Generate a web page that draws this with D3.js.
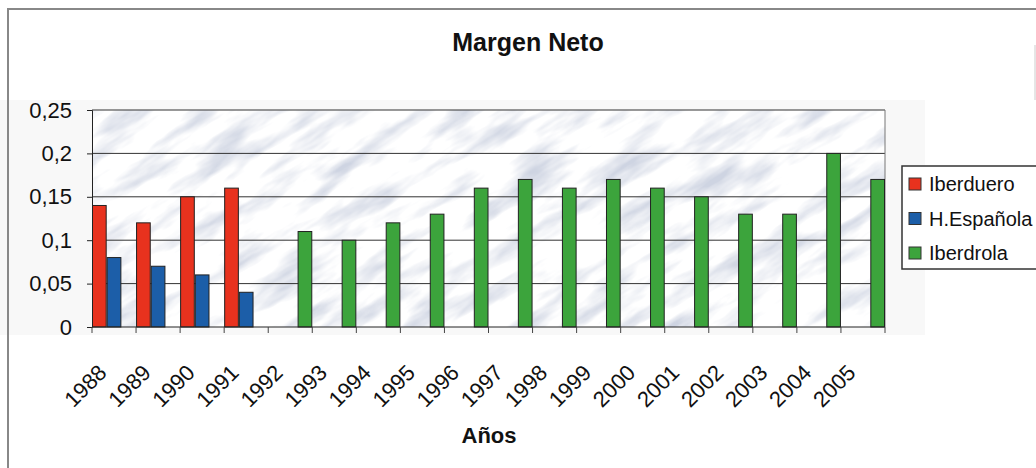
<!DOCTYPE html>
<html>
<head>
<meta charset="utf-8">
<script src="https://cdn.jsdelivr.net/npm/d3@7"></script>
<style>
  body { margin: 0; background: #fff; }
  svg text { font-family: "Liberation Sans", Arial, sans-serif; fill: #111; }
</style>
</head>
<body>
<div id="chart"></div>
<script>
// values
const years = ["1988", "1989", "1990", "1991", "1992", "1993", "1994", "1995", "1996",
               "1997", "1998", "1999", "2000", "2001", "2002", "2003", "2004", "2005"];
const seriesNames = ["Iberduero", "H.Española", "Iberdrola"];
const iberduero = [0.14, 0.12, 0.15, 0.16, null, null, null, null, null,
                   null, null, null, null, null, null, null, null, null];
const hEspanola = [0.08, 0.07, 0.06, 0.04, null, null, null, null, null,
                   null, null, null, null, null, null, null, null, null];
const iberdrola = [null, null, null, null, 0.11, 0.10, 0.12, 0.13, 0.16,
                   0.17, 0.16, 0.17, 0.16, 0.15, 0.13, 0.13, 0.20, 0.17];
const yTicks = [0, 0.05, 0.1, 0.15, 0.2, 0.25];
const seriesColors = ["#e8321e", "#1c5ea8", "#3ca43c"];

const width = 1036, height = 468;
const plot = { left: 92, right: 885, top: 110, bottom: 327 };

let svg = d3.select("#chart").append("svg").attr("width", width).attr("height", height);

// faint scan tint behind the chart and outer frame
svg.append("rect").attr("x", 0).attr("y", 100).attr("width", 925).attr("height", 235).attr("fill", "#f8f8f8");
svg.append("path").attr("d", "M8,468 L8,9 L1036,9").attr("fill", "none").attr("stroke", "#888").attr("stroke-width", 2);
svg.append("line").attr("x1", 1035).attr("x2", 1035).attr("y1", 45).attr("y2", 100).attr("stroke", "#ccc");

// marble texture of the plot area
let defs = svg.append("defs");
let filter = defs.append("filter").attr("id", "marble").attr("x", 0).attr("y", 0).attr("width", "100%").attr("height", "100%");
filter.append("feTurbulence").attr("type", "fractalNoise").attr("baseFrequency", "0.012 0.045").attr("numOctaves", 4).attr("seed", 11);
filter.append("feColorMatrix").attr("type", "matrix")
    .attr("values", "0 0 0 0 0.62  0 0 0 0 0.66  0 0 0 0 0.76  2.8 0 0 0 -1.3");
defs.append("clipPath").attr("id", "plotClip").append("rect")
    .attr("x", plot.left).attr("y", plot.top).attr("width", plot.right - plot.left).attr("height", plot.bottom - plot.top);

let bg = svg.append("g").attr("clip-path", "url(#plotClip)");
bg.append("rect").attr("x", plot.left).attr("y", plot.top).attr("width", plot.right - plot.left).attr("height", plot.bottom - plot.top).attr("fill", "#fff");
bg.append("g").attr("transform", "rotate(-32 488 218)")
    .append("rect").attr("x", -100).attr("y", -300).attr("width", 1200).attr("height", 900).attr("filter", "url(#marble)");

// scales
let x = d3.scaleBand().domain(years).range([plot.left, plot.right]).padding(0);
let xInner = d3.scaleBand().domain(seriesNames).range([0, x.bandwidth()]).padding(0);
let y = d3.scaleLinear().domain([0, 0.25]).range([plot.bottom, plot.top]);

// gridlines
svg.append("g").selectAll("line").data(yTicks.slice(1)).join("line")
    .attr("x1", plot.left).attr("x2", plot.right)
    .attr("y1", d => y(d)).attr("y2", d => y(d))
    .attr("stroke", "#333").attr("stroke-width", 1);
svg.append("line").attr("x1", plot.right).attr("x2", plot.right).attr("y1", plot.top).attr("y2", plot.bottom)
    .attr("stroke", "#777");

// bars
let table = years.map((yr, i) => ({ year: yr, values: [iberduero[i], hEspanola[i], iberdrola[i]] }));
let groups = svg.append("g").selectAll("g").data(table).join("g")
    .attr("transform", d => "translate(" + x(d.year) + ",0)");
groups.selectAll("rect").data(d => d.values.map((v, k) => ({ name: seriesNames[k], value: v, k: k })).filter(e => e.value != null))
    .join("rect")
    .attr("x", d => xInner(d.name) + 0.5)
    .attr("width", xInner.bandwidth() - 1)
    .attr("y", d => y(d.value))
    .attr("height", d => y(0) - y(d.value))
    .attr("fill", d => seriesColors[d.k])
    .attr("stroke", "#222").attr("stroke-width", 1);

// y axis
let yAxis = d3.axisLeft(y).tickValues(yTicks).tickSize(5).tickPadding(15)
    .tickFormat(d => String(d).replace(".", ","));
let yg = svg.append("g").attr("transform", "translate(" + plot.left + ",0)").call(yAxis);
yg.select(".domain").attr("stroke", "#222");
yg.selectAll(".tick line").attr("stroke", "#222");
yg.selectAll(".tick text").attr("font-size", "22px").attr("font-family", "Liberation Sans, Arial, sans-serif").attr("fill", "#111");

// x axis: ticks sit between categories
let xg = svg.append("g");
xg.append("line").attr("x1", plot.left).attr("x2", plot.right).attr("y1", plot.bottom).attr("y2", plot.bottom).attr("stroke", "#222");
xg.selectAll("line.tk").data(years.concat(["end"])).join("line").attr("class", "tk")
    .attr("x1", (d, i) => plot.left + i * x.step()).attr("x2", (d, i) => plot.left + i * x.step())
    .attr("y1", plot.bottom).attr("y2", plot.bottom + 6).attr("stroke", "#444");
xg.selectAll("text").data(years).join("text")
    .attr("transform", d => "translate(" + (x(d) + x.bandwidth() / 2 - 6) + "," + (plot.bottom + 47) + ") rotate(-45)")
    .attr("text-anchor", "end")
    .attr("font-size", "22px")
    .text(d => d);

// titles
svg.append("text").attr("x", 528).attr("y", 51).attr("text-anchor", "middle")
    .attr("font-size", "25px").attr("font-weight", "bold").text("Margen Neto");
svg.append("text").attr("x", 489).attr("y", 443).attr("text-anchor", "middle")
    .attr("font-size", "22px").attr("font-weight", "bold").text("Años");

// legend
let legend = svg.append("g");
legend.append("rect").attr("x", 902).attr("y", 166).attr("width", 150).attr("height", 103)
    .attr("fill", "#fff").attr("stroke", "#333").attr("stroke-width", 1.5);
let items = legend.selectAll("g").data(seriesNames).join("g")
    .attr("transform", (d, i) => "translate(909," + (184 + i * 34.5) + ")");
items.append("rect").attr("x", 0).attr("y", -6).attr("width", 12).attr("height", 12)
    .attr("fill", (d, i) => seriesColors[i]).attr("stroke", "#333");
items.append("text").attr("x", 20).attr("y", 7).attr("font-size", "20px").text(d => d);
</script>
</body>
</html>
